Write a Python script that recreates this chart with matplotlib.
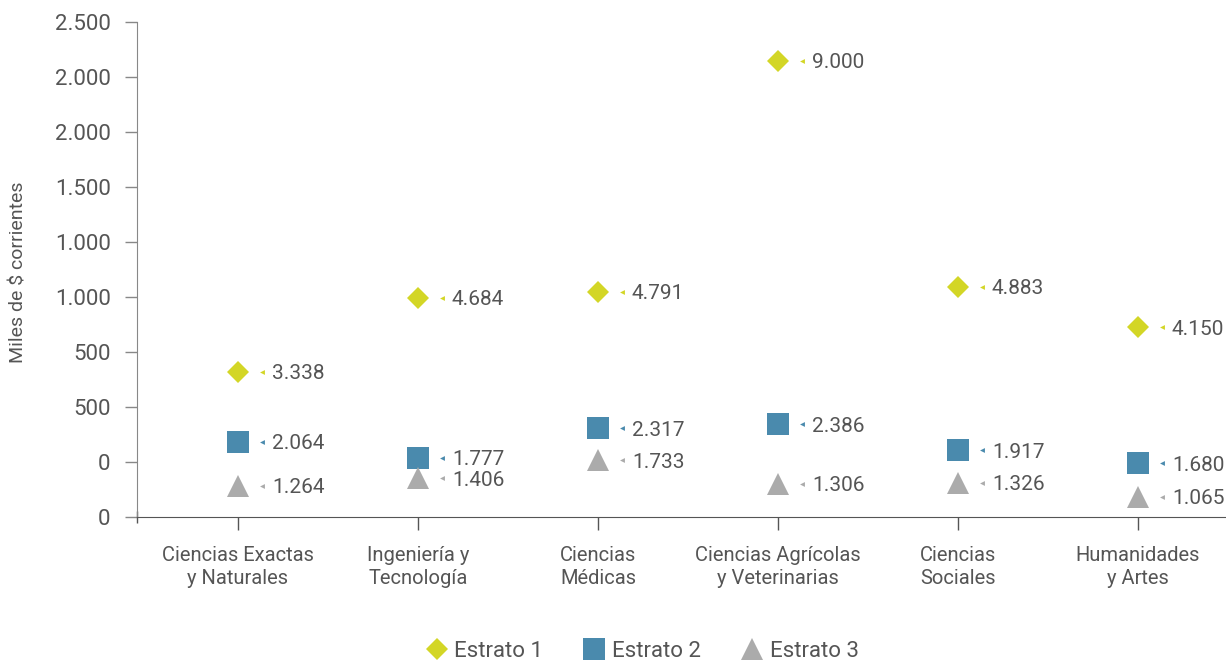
import matplotlib.pyplot as plt
import matplotlib.transforms as mtransforms

plt.rcParams['font.family'] = ['Roboto', 'DejaVu Sans']

# datos
categorias = ['Ciencias Exactas\ny Naturales', 'Ingeniería y\nTecnología', 'Ciencias\nMédicas',
              'Ciencias Agrícolas\ny Veterinarias', 'Ciencias\nSociales', 'Humanidades\ny Artes']
estrato1 = [3338, 4684, 4791, 9000, 4883, 4150]
estrato2 = [2064, 1777, 2317, 2386, 1917, 1680]
estrato3 = [1264, 1406, 1733, 1306, 1326, 1065]
ytick_vals = [700, 1700, 2700, 3700, 4700, 5700, 6700, 7700, 8700, 9700]
ytick_labels = ['0', '0', '500', '500', '1.000', '1.000', '1.500', '2.000', '2.000', '2.500']

c1 = '#D3D626'
c2 = '#4A8AAD'
c3 = '#ABABAB'
txt = '#555555'

fig = plt.figure(figsize=(12.26, 6.6), dpi=100)
ax = fig.add_axes([137 / 1226, 143 / 660, 1089 / 1226, 495 / 660])

x = list(range(len(categorias)))
off_mk = mtransforms.offset_copy(ax.transData, fig=fig, x=24, y=0, units='dots')
off_tx = mtransforms.offset_copy(ax.transData, fig=fig, x=34, y=-2, units='dots')

series = [(estrato1, 'D', 11.2, c1, 'Estrato 1'),
          (estrato2, 's', 16.5, c2, 'Estrato 2'),
          (estrato3, '^', 16.5, c3, 'Estrato 3')]
for vals, mk, ms, col, lab in series:
    ax.plot(x, vals, linestyle='none', marker=mk, markersize=ms, color=col,
            markeredgewidth=0, label=lab)
    ax.plot(x, vals, linestyle='none', marker='<', markersize=3.5, color=col,
            markeredgewidth=0, transform=off_mk)
    for xi, v in zip(x, vals):
        ax.text(xi, v, f'{v / 1000:.3f}', transform=off_tx, ha='left', va='center',
                fontsize=15, color=txt)

ax.set_xlim(-0.561, 5.489)
ax.set_ylim(700, 9700)
ax.set_yticks(ytick_vals)
ax.set_yticklabels(ytick_labels)
ax.set_xticks(x)
ax.set_xticklabels(categorias)
ax.tick_params(axis='y', labelsize=16, colors=txt, length=9, width=1, color='#888888', pad=10)
ax.tick_params(axis='x', labelsize=14.5, colors=txt, length=9, width=1, color='#555555', pad=12)
for lab in ax.get_xticklabels():
    lab.set_linespacing(1.25)

ax.spines['top'].set_visible(False)
ax.spines['right'].set_visible(False)
ax.spines['left'].set_color('#888888')
ax.spines['bottom'].set_color('#555555')
ax.spines['bottom'].set_bounds(0, 1)
ax.spines['bottom'].set_transform(ax.transAxes)

ax.set_ylabel('Miles de $ corrientes', fontsize=14, color=txt)
ax.yaxis.set_label_coords(-0.101, 0.495)

ax.plot([0], [0], transform=ax.transAxes, marker='|', markersize=9, color='#555555',
        markeredgewidth=1, clip_on=False)

handles, labels = ax.get_legend_handles_labels()
fig.legend(handles, labels, loc='center', bbox_to_anchor=(0.523, 0.013), ncol=3,
           frameon=False, fontsize=16, labelcolor=txt, columnspacing=1.7,
           handletextpad=0.2, handlelength=1.2)

fig.savefig('out.png', dpi=100)
